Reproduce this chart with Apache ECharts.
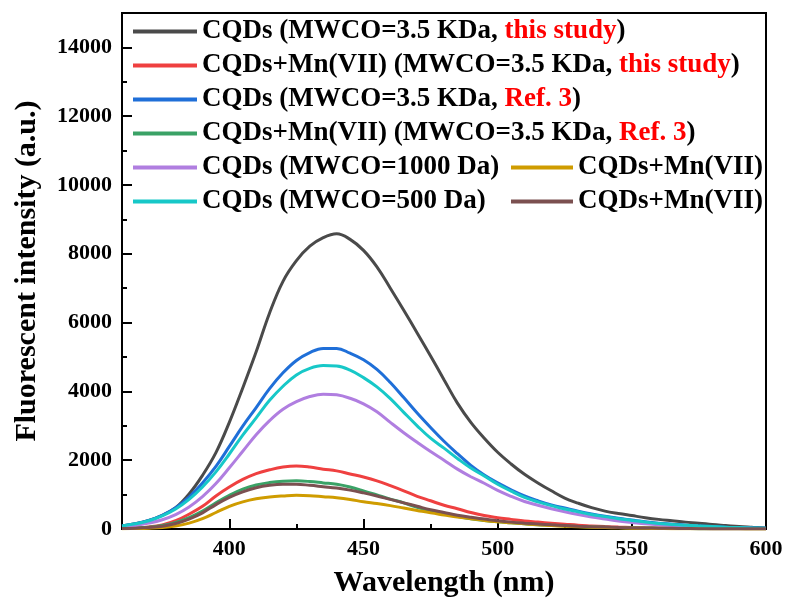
<!DOCTYPE html>
<html>
<head>
<meta charset="utf-8">
<script src="https://cdn.jsdelivr.net/npm/echarts@6/dist/echarts.min.js"></script>
<style>
  html, body { margin: 0; padding: 0; background: #fff; }
  #chart { width: 787px; height: 603px; }
</style>
</head>
<body>
<div id="chart"></div>
<script>
// wavelength grid (nm)
const wavelength = [360, 365, 370, 375, 380, 385, 390, 395, 400, 405, 410, 415, 420, 425, 430, 435, 440, 445, 450, 455,
  460, 465, 470, 475, 480, 485, 490, 495, 500, 505, 510, 515, 520, 525, 530, 535, 540, 545, 550, 555,
  560, 565, 570, 575, 580, 585, 590, 595, 600]

// fluorescence intensity
const cqdThisStudy = [90, 150, 250, 400, 620, 1020, 1560, 2220, 3100, 4100, 5150, 6280, 7200, 7800, 8220, 8470, 8580, 8420, 8100, 7620,
  7000, 6360, 5700, 5030, 4340, 3660, 3100, 2640, 2230, 1890, 1590, 1340, 1110, 900, 750, 620, 520, 450, 390, 330,
  280, 240, 200, 170, 130, 100, 70, 50, 30]
const mnThisStudy = [20, 35, 60, 120, 240, 430, 660, 960, 1220, 1440, 1610, 1720, 1800, 1830, 1800, 1740, 1690, 1600, 1510, 1400,
  1260, 1110, 950, 820, 690, 590, 480, 390, 330, 280, 230, 200, 170, 140, 110, 90, 70, 55, 45, 35,
  30, 25, 20, 15, 10, 10, 5, 5, 5]
const cqdRef3 = [90, 150, 250, 400, 620, 930, 1340, 1820, 2400, 2990, 3530, 4080, 4540, 4900, 5130, 5250, 5250, 5110, 4920, 4640,
  4260, 3820, 3370, 2950, 2550, 2190, 1850, 1570, 1340, 1140, 960, 820, 700, 610, 520, 440, 370, 310, 260, 210,
  170, 140, 110, 90, 70, 50, 40, 30, 20]
const mnRef3 = [20, 30, 50, 100, 190, 330, 520, 760, 980, 1160, 1280, 1350, 1390, 1400, 1380, 1340, 1300, 1220, 1110, 990,
  870, 760, 630, 530, 450, 370, 300, 250, 210, 180, 150, 125, 110, 90, 75, 60, 50, 40, 35, 30,
  25, 20, 15, 10, 10, 5, 5, 5, 5]
const cqd1000 = [60, 100, 170, 270, 420, 640, 940, 1320, 1780, 2260, 2740, 3150, 3480, 3700, 3850, 3920, 3900, 3800, 3640, 3410,
  3100, 2800, 2520, 2250, 2000, 1740, 1520, 1330, 1120, 950, 800, 690, 590, 500, 420, 350, 290, 230, 190, 150,
  120, 100, 80, 60, 50, 40, 30, 20, 15]
const mn1000 = [10, 15, 25, 45, 90, 170, 300, 480, 660, 790, 880, 930, 960, 980, 970, 940, 910, 860, 790, 740,
  680, 610, 540, 470, 410, 350, 300, 250, 210, 180, 150, 120, 100, 80, 65, 50, 40, 35, 25, 20,
  15, 10, 10, 5, 5, 5, 5, 0, 0]
const cqd500 = [90, 150, 240, 380, 580, 860, 1220, 1660, 2180, 2730, 3230, 3740, 4150, 4480, 4670, 4750, 4740, 4620, 4400, 4130,
  3790, 3390, 3000, 2640, 2350, 2050, 1770, 1540, 1300, 1100, 920, 790, 680, 580, 500, 420, 360, 300, 250, 200,
  160, 130, 110, 90, 70, 50, 40, 30, 20]
const mn500 = [15, 25, 45, 80, 160, 290, 470, 710, 920, 1080, 1200, 1270, 1300, 1300, 1270, 1230, 1190, 1130, 1050, 960,
  860, 760, 660, 560, 480, 400, 340, 290, 240, 200, 170, 145, 120, 100, 80, 65, 55, 45, 35, 30,
  25, 20, 15, 10, 10, 5, 5, 5, 5]

const xLabels = [400, 450, 500, 550, 600]
const xMinor = [425, 475, 525, 575]
const yLabels = [0, 2000, 4000, 6000, 8000, 10000, 12000, 14000]
const yMinor = [1000, 3000, 5000, 7000, 9000, 11000, 13000]

// the two "CQDs+Mn(VII)" entries need distinct names for the legend
const ZW = '\u200b'
const names = [
  'CQDs (MWCO=3.5 KDa, this study)',
  'CQDs+Mn(VII) (MWCO=3.5 KDa, this study)',
  'CQDs (MWCO=3.5 KDa, Ref. 3)',
  'CQDs+Mn(VII) (MWCO=3.5 KDa, Ref. 3)',
  'CQDs (MWCO=1000 Da)',
  'CQDs+Mn(VII)',
  'CQDs (MWCO=500 Da)',
  'CQDs+Mn(VII)' + ZW
]
const colors = ['#4a4a4a', '#ef4040', '#1f6fd8', '#3aa266', '#b07ee0', '#cf9c00', '#17c8c8', '#7b5050']
const values = [cqdThisStudy, mnThisStudy, cqdRef3, mnRef3, cqd1000, mn1000, cqd500, mn500]

const FONT = 'Liberation Serif'

const chart = echarts.init(document.getElementById('chart'))

const legendText = {
  fontFamily: FONT,
  fontWeight: 'bold',
  fontSize: 27,
  lineHeight: 24,
  color: '#000',
  rich: {
    r: { fontFamily: FONT, fontWeight: 'bold', fontSize: 27, lineHeight: 24, color: '#ff0000' }
  }
}
function legendFormat(name) {
  return name.replace(ZW, '')
    .replace('this study', '{r|this study}')
    .replace('Ref. 3', '{r|Ref. 3}')
}

chart.setOption({
  animation: false,
  grid: {
    left: 122,
    right: 21,
    top: 13,
    bottom: 72,
    show: true,
    borderColor: '#000',
    borderWidth: 2
  },
  legend: [{
    data: [names[0], names[1], names[2], names[3], names[4], names[6]],
    orient: 'vertical',
    left: 128,
    top: 13,
    icon: 'rect',
    itemWidth: 64,
    itemHeight: 4,
    itemGap: 7,
    textStyle: legendText,
    formatter: legendFormat
  }, {
    data: [names[5], names[7]],
    orient: 'vertical',
    left: 506,
    top: 149,
    icon: 'rect',
    itemWidth: 62,
    itemHeight: 4,
    itemGap: 7,
    textStyle: legendText,
    formatter: legendFormat
  }],
  xAxis: [{
    type: 'value',
    min: 360,
    max: 600,
    name: 'Wavelength (nm)',
    nameLocation: 'middle',
    nameGap: 39,
    nameTextStyle: { fontFamily: FONT, fontWeight: 'bold', fontSize: 30, color: '#000' },
    axisLine: { lineStyle: { color: '#000', width: 2 } },
    axisTick: { inside: true, length: 10, customValues: xLabels, lineStyle: { color: '#000', width: 2 } },
    axisLabel: { customValues: xLabels, margin: 9, fontFamily: FONT, fontWeight: 'bold', fontSize: 22, color: '#000' },
    splitLine: { show: false }
  }, {
    type: 'value',
    min: 360,
    max: 600,
    position: 'bottom',
    axisLine: { show: false },
    axisTick: { inside: true, length: 5, customValues: xMinor, lineStyle: { color: '#000', width: 2 } },
    axisLabel: { show: false },
    splitLine: { show: false }
  }],
  yAxis: [{
    type: 'value',
    min: 0,
    max: 15000,
    name: 'Fluorescent intensity (a.u.)',
    nameLocation: 'middle',
    nameGap: 80,
    nameTextStyle: { fontFamily: FONT, fontWeight: 'bold', fontSize: 30, color: '#000' },
    axisLine: { show: true, lineStyle: { color: '#000', width: 2 } },
    axisTick: { show: true, inside: true, length: 10, customValues: yLabels, lineStyle: { color: '#000', width: 2 } },
    axisLabel: {
      customValues: yLabels,
      margin: 10,
      fontFamily: FONT,
      fontWeight: 'bold',
      fontSize: 22,
      color: '#000',
      formatter: v => String(v)
    },
    splitLine: { show: false }
  }, {
    type: 'value',
    min: 0,
    max: 15000,
    position: 'left',
    axisLine: { show: false },
    axisTick: { show: true, inside: true, length: 5, customValues: yMinor, lineStyle: { color: '#000', width: 2 } },
    axisLabel: { show: false },
    splitLine: { show: false }
  }],
  series: names.map((name, k) => ({
    name: name,
    type: 'line',
    xAxisIndex: 0,
    yAxisIndex: 0,
    showSymbol: false,
    smooth: 0.4,
    color: colors[k],
    lineStyle: { color: colors[k], width: 3 },
    data: wavelength.map((w, i) => [w, values[k][i]])
  }))
})
</script>
</body>
</html>
